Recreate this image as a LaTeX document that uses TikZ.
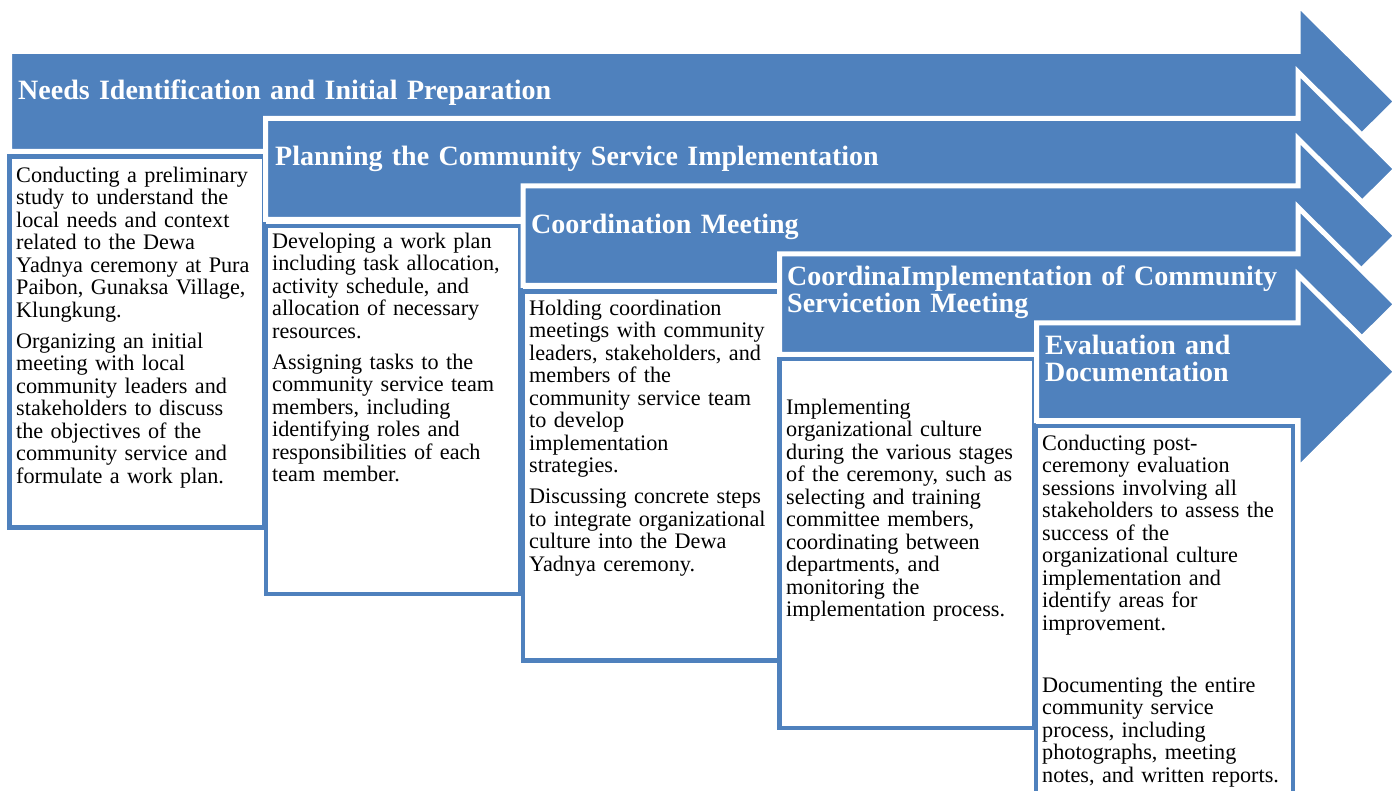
\documentclass[tikz,border=0pt]{standalone}
\usepackage{fontspec}
\setmainfont{Liberation Serif}
\definecolor{acc}{HTML}{4F81BD}
\hyphenpenalty=10000
\exhyphenpenalty=10000
\newcommand\bodystrut{\rule{0pt}{17pt}}
\newcommand\titlestrut{\rule{0pt}{21pt}}
% #1 left, #2 top, #3 bottom
\newcommand\stagearrow[3]{%
  \path[arrowshape] (#1,#2) -- (1298,#2) -- (1298,{(#2+#3)/2-97})
    -- (1396,{(#2+#3)/2}) -- (1298,{(#2+#3)/2+97}) -- (1298,#3) -- (#1,#3) -- cycle;}
\tikzset{
  arrowshape/.style={fill=acc, draw=white, line width=5pt, line join=miter, miter limit=10},
  stagebox/.style={draw=acc, fill=white, line width=4.5pt},
  stagetitle/.style={text=white, font=\fontsize{28}{27}\selectfont\bfseries,
    anchor=north west, inner sep=0pt, text width=900pt, align=left},
  stagebody/.style={text=black, font=\fontsize{22.2}{22.5}\selectfont,
    anchor=north west, inner sep=0pt, text width=300pt, align=left},
}
\begin{document}
\begin{tikzpicture}[x=1pt,y=-1pt]
\useasboundingbox (0,0) rectangle (1400,791);

% stage 1
\stagearrow{9.5}{51.5}{151.5}
\node[stagetitle] (t1) at (18,{99.3-21}) {\titlestrut Needs Identification and Initial Preparation};
\draw[stagebox] (9.5,156.5) rectangle (264,527.5);
\node[stagebody] (b1) at (16,{182-17}) {\bodystrut Conducting a preliminary\\
study to understand the\\
local needs and context\\
related to the Dewa\\
Yadnya ceremony at Pura\\
Paibon, Gunaksa Village,\\
Klungkung.\\[8.5pt]
Organizing an initial\\
meeting with local\\
community leaders and\\
stakeholders to discuss\\
the objectives of the\\
community service and\\
formulate a work plan.};

% stage 2
\stagearrow{265.5}{118.5}{219.5}
\node[stagetitle] (t2) at (275,{165-21}) {\titlestrut Planning the Community Service Implementation};
\draw[stagebox] (266,226) rectangle (520.5,594);
\node[stagebody] (b2) at (272,{248-17}) {\bodystrut Developing a work plan\\
including task allocation,\\
activity schedule, and\\
allocation of necessary\\
resources.\\[8.5pt]
Assigning tasks to the\\
community service team\\
members, including\\
identifying roles and\\
responsibilities of each\\
team member.};

% stage 3
\stagearrow{523}{186}{285.5}
\node[stagetitle] (t3) at (531,{233.3-21}) {\titlestrut Coordination Meeting};
\draw[stagebox] (523,291.7) rectangle (779,660.5);
\node[stagebody] (b3) at (529,{315-17}) {\bodystrut Holding coordination\\
meetings with community\\
leaders, stakeholders, and\\
members of the\\
community service team\\
to develop\\
implementation\\
strategies.\\[8.5pt]
Discussing concrete steps\\
to integrate organizational\\
culture into the Dewa\\
Yadnya ceremony.};

% stage 4
\stagearrow{779.5}{254}{354.5}
\node[stagetitle] (t4) at (787,{285.7-21}) {\titlestrut CoordinaImplementation of Community\\
Servicetion Meeting};
\draw[stagebox] (779.5,359) rectangle (1034,728);
\node[stagebody] (b4) at (786,{414-17}) {\bodystrut Implementing\\
organizational culture\\
during the various stages\\
of the ceremony, such as\\
selecting and training\\
committee members,\\
coordinating between\\
departments, and\\
monitoring the\\
implementation process.};

% stage 5
\stagearrow{1036.5}{323}{420.5}
\node[stagetitle] (t5) at (1045,{354-21}) {\titlestrut Evaluation and\\
Documentation};
\draw[stagebox] (1036,426) rectangle (1293,810);
\node[stagebody] (b5) at (1042,{450-17}) {\bodystrut Conducting post-\\
ceremony evaluation\\
sessions involving all\\
stakeholders to assess the\\
success of the\\
organizational culture\\
implementation and\\
identify areas for\\
improvement.\\[39.5pt]
Documenting the entire\\
community service\\
process, including\\
photographs, meeting\\
notes, and written reports.};
\end{tikzpicture}
\end{document}
